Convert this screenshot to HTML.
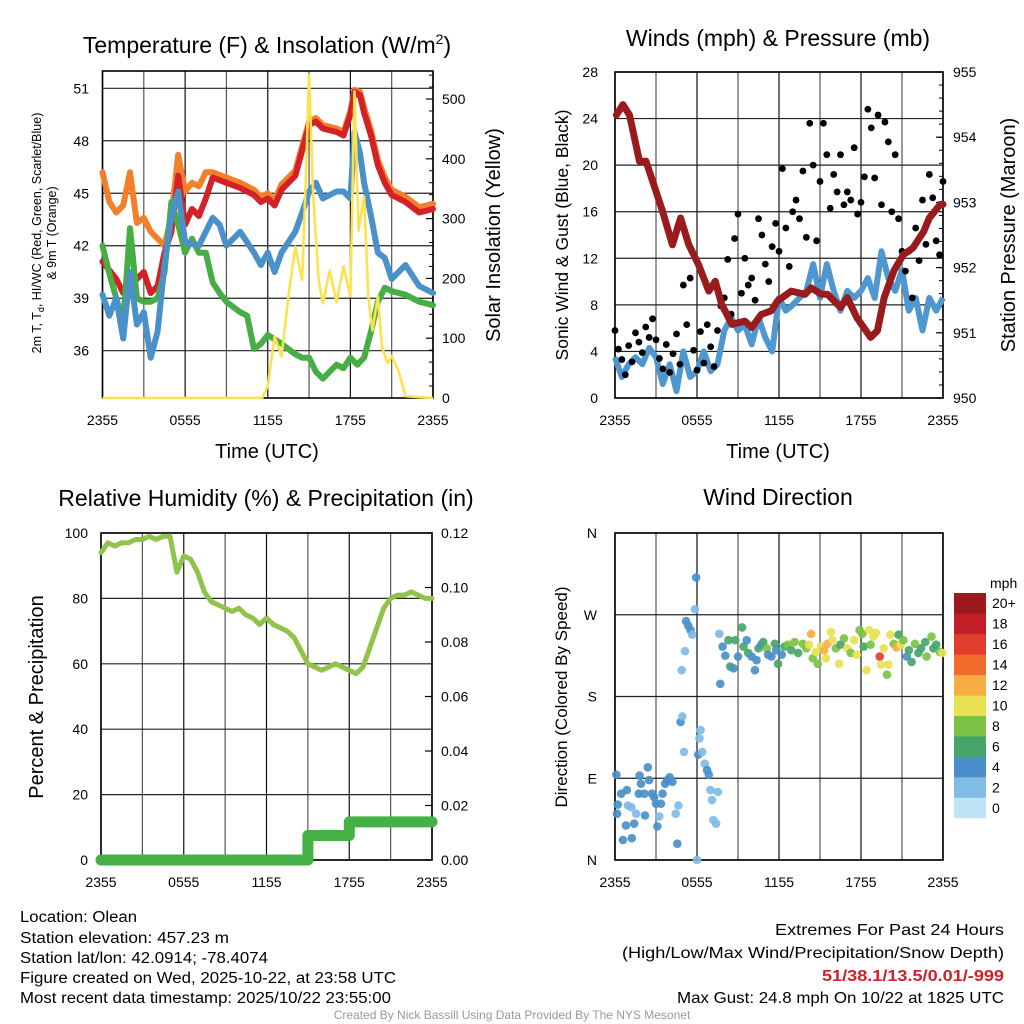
<!DOCTYPE html>
<html><head><meta charset="utf-8">
<style>
html,body{margin:0;padding:0;background:#fff;}
svg{display:block;font-family:"Liberation Sans",sans-serif;}
</style></head>
<body>
<svg id="chart" width="1024" height="1024" viewBox="0 0 1024 1024" xmlns="http://www.w3.org/2000/svg">
<rect x="0" y="0" width="1024" height="1024" fill="#fff"/>
<!-- titles -->
<text x="267" y="53" font-size="23" text-anchor="middle">Temperature (F) &amp; Insolation (W/m<tspan font-size="14" dy="-9">2</tspan><tspan dy="9">)</tspan></text>
<text x="778" y="46" font-size="23" text-anchor="middle">Winds (mph) &amp; Pressure (mb)</text>
<text x="266" y="506" font-size="23" text-anchor="middle">Relative Humidity (%) &amp; Precipitation (in)</text>
<text x="778" y="505" font-size="23" text-anchor="middle">Wind Direction</text>
<!-- axis labels -->
<text transform="translate(41,233) rotate(-90)" font-size="12.5" text-anchor="middle">2m T, T<tspan font-size="9" dy="3">d</tspan><tspan dy="-3">, HI/WC (Red, Green, Scarlet/Blue)</tspan></text>
<text transform="translate(56,233) rotate(-90)" font-size="12.5" text-anchor="middle">&amp; 9m T (Orange)</text>
<text transform="translate(500,235) rotate(-90)" font-size="20" text-anchor="middle">Solar Insolation (Yellow)</text>
<text x="267" y="458" font-size="20" text-anchor="middle">Time (UTC)</text>
<text transform="translate(568,235) rotate(-90)" font-size="17.5" text-anchor="middle">Sonic Wind &amp; Gust (Blue, Black)</text>
<text transform="translate(1015,235) rotate(-90)" font-size="20" text-anchor="middle">Station Pressure (Maroon)</text>
<text x="778" y="458" font-size="20" text-anchor="middle">Time (UTC)</text>
<text transform="translate(43,697) rotate(-90)" font-size="20" text-anchor="middle">Percent &amp; Precipitation</text>
<text transform="translate(567,697) rotate(-90)" font-size="17" text-anchor="middle">Direction (Colored By Speed)</text>
<text x="990" y="588" font-size="14">mph</text>
<!-- footer -->
<g font-size="15.5">
<text x="20" y="922" textLength="117" lengthAdjust="spacingAndGlyphs">Location: Olean</text>
<text x="20" y="943" textLength="209" lengthAdjust="spacingAndGlyphs">Station elevation: 457.23 m</text>
<text x="20" y="963" textLength="248" lengthAdjust="spacingAndGlyphs">Station lat/lon: 42.0914; -78.4074</text>
<text x="20" y="983" textLength="376" lengthAdjust="spacingAndGlyphs">Figure created on Wed, 2025-10-22, at 23:58 UTC</text>
<text x="20" y="1003" textLength="371" lengthAdjust="spacingAndGlyphs">Most recent data timestamp: 2025/10/22 23:55:00</text>
</g>
<g font-size="16" text-anchor="end">
<text x="1004" y="935" textLength="229" lengthAdjust="spacingAndGlyphs">Extremes For Past 24 Hours</text>
<text x="1004" y="958" textLength="382" lengthAdjust="spacingAndGlyphs">(High/Low/Max Wind/Precipitation/Snow Depth)</text>
<text x="1004" y="981" fill="#d0202a" font-weight="bold" textLength="182" lengthAdjust="spacingAndGlyphs">51/38.1/13.5/0.01/-999</text>
<text x="1004" y="1003" textLength="327" lengthAdjust="spacingAndGlyphs">Max Gust: 24.8 mph On 10/22 at 1825 UTC</text>
</g>
<text x="512" y="1019" font-size="12" fill="#999" text-anchor="middle">Created By Nick Bassill Using Data Provided By The NYS Mesonet</text>
<g id="plots"></g>
</svg>
<script>
// ---- Temperature panel data ----
const redT = [0,1,1.5,2,2.5,3,3.5,4,4.5,5,5.5,6,6.5,7,7.5,8,9,10,11,11.5,12,12.5,13,14,15,15.5,16,17,17.5,18,18.3,18.7,19,19.5,20,20.5,21,22,23,24];
const redV = [41.1,40.1,39.3,40.1,40.1,40.5,39.3,39.7,41.6,42.8,46.0,43.2,44.1,43.7,44.7,45.9,45.6,45.3,44.9,44.5,44.7,44.3,45.2,46.0,48.9,49.1,48.7,48.5,48.3,49.5,50.8,50.6,49.6,48.3,46.6,45.6,44.9,44.5,43.9,44.1];
const orangeT = [0,0.5,1,1.5,2,2.5,3,3.5,4,4.5,5,5.5,6,6.5,7,7.5,8,9,10,11,11.5,12,12.5,13,14,15,15.5,16,17,17.5,18,18.3,18.7,19,19.5,20,20.5,21,22,23,24];
const orangeV = [46.2,44.5,43.9,44.3,46.2,43.3,43.6,42.8,42.4,42.0,43.7,47.2,45.1,45.6,45.4,46.2,46.2,45.9,45.6,45.2,44.8,45.0,44.6,45.5,46.3,49.1,49.3,48.9,48.7,48.5,49.7,50.9,50.8,49.9,48.6,46.9,45.9,45.2,44.8,44.2,44.4];
const blueT = [0,0.5,1,1.5,2,2.5,3,3.5,4,4.5,5,5.5,6,7,8,8.5,9,10,11,11.5,12,12.5,13,14,14.5,15,15.5,16,17,17.5,18,18.3,18.7,19,19.5,20,20.5,21,22,23,24];
const blueV = [39.2,38.0,39.0,36.7,40.5,37.5,38.2,35.6,37.1,40.9,43.7,45.1,42.2,42.0,43.6,43.2,42.0,42.8,41.6,40.9,41.6,40.5,41.6,42.8,43.9,45.1,45.6,44.7,45.1,45.1,44.7,48.5,47.3,45.6,43.7,41.6,41.3,40.1,40.9,39.7,39.3];
const greenT = [0,0.5,1,1.5,2,2.5,3,3.5,4,4.5,5,5.5,6,6.5,7,7.5,8,8.5,9,10,10.5,11,11.5,12,13,14,14.5,15,15.5,16,17,17.5,18,18.5,19,19.5,20,20.5,21,22,23,24];
const greenV = [42.0,40.4,39.0,37.6,43.0,39.0,38.8,38.8,39.0,40.5,44.5,43.2,41.6,42.4,41.6,41.6,39.9,39.3,38.8,38.2,38.0,36.1,36.4,36.9,36.4,35.8,35.6,35.6,34.8,34.4,35.2,35.0,35.6,35.2,35.6,37.1,38.8,39.6,39.4,39.2,38.8,38.6];
const solarT = [0,11.6,12,12.5,13,13.5,14,14.5,14.8,15,15.3,15.7,16,16.5,17,17.5,18,18.3,18.6,19,19.3,19.6,20,20.3,20.7,21,21.5,22,24];
const solarV = [0,0,20,103,70,170,253,197,392,540,337,197,158,213,160,220,170,513,280,337,170,113,170,85,58,70,45,3,0];
const tempTicks = [36,39,42,45,48,51];
const solarTicks = [0,100,200,300,400,500];
const timeLabels = ["2355","0555","1155","1755","2355"];
// ---- Wind panel data ----
const pressT = [0.1,0.58,1.06,1.79,2.27,3.0,3.48,4.2,4.8,5.4,6.1,6.86,7.34,7.8,8.55,9.5,10.0,10.7,11.45,11.9,12.9,13.9,14.35,15.1,15.55,16.5,17.0,17.7,18.7,19.2,19.7,20.4,21.1,21.8,22.6,23.0,23.8,24];
const pressV = [954.34,954.50,954.34,953.63,953.63,953.17,952.86,952.35,952.76,952.35,952.05,951.64,951.79,951.44,951.13,951.18,951.08,951.28,951.34,951.49,951.64,951.59,951.69,951.59,951.59,951.39,951.54,951.23,950.93,951.03,951.54,951.95,952.20,952.30,952.56,952.76,952.97,952.97];
const windV = [3.5,1.8,2.9,3.5,2.9,4.3,3.5,1.2,2.9,0.6,4.0,1.8,2.3,4.0,2.3,2.9,5.8,6.9,5.8,6.3,4.6,6.9,5.2,4.0,8.6,7.5,8.0,8.6,9.2,11.5,8.6,11.5,9.2,7.5,9.2,8.6,9.2,10.3,8.6,12.6,10.3,9.2,11.0,7.5,8.6,5.8,8.6,7.5,8.6];
const gustV = [5.8,4.2,3.3,2.0,4.5,3.1,5.6,4.8,3.9,
6.1,5.2,6.8,5.0,3.4,2.5,4.6,2.2,
3.8,5.5,2.9,9.7,6.3,10.3,4.1,2.4,
5.7,3.0,6.3,4.4,2.7,5.8,7.9,8.6,
11.9,7.2,13.7,15.8,9.0,12.0,9.7,10.3,
8.4,15.4,14.0,11.5,10.0,13.0,15.0,12.6,
19.7,14.6,11.3,16.0,17.0,15.4,19.5,13.8,
23.6,20.0,13.5,18.6,23.6,20.9,16.3,19.2,
17.7,20.9,16.6,17.7,17.0,21.5,15.8,16.8,
19.0,24.8,23.2,18.9,24.3,16.6,23.7,22.0,
16.0,20.9,15.4,12.6,10.9,12.6,8.6,14.6,
11.8,17.0,13.2,19.2,17.2,13.5,12.3,18.6];
const windTicks = [0,4,8,12,16,20,24,28];
const pressTicks = [950,951,952,953,954,955];
// ---- Humidity panel data ----
const rhV = [94,97,96,97,97,98,98,99,98,99,99,88,93,92,88,82,79,78,77,76,77,75,74,72,74,72,71,70,68,64,60,59,58,59,60,59,58,57,59,65,71,77,80,81,81,82,81,80,80];
const precipV = [0,0,0,0,0,0,0,0,0,0,0,0,0,0,0,0,0,0,0,0,0,0,0,0,0,0,0,0,0,0,0.009,0.009,0.009,0.009,0.009,0.009,0.014,0.014,0.014,0.014,0.014,0.014,0.014,0.014,0.014,0.014,0.014,0.014,0.014];
const rhTicks = [0,20,40,60,80,100];
const precipTicks = ["0.00","0.02","0.04","0.06","0.08","0.10","0.12"];
// ---- Wind direction data ----
const dirT = [0.1,0.2,0.15,0.45,0.58,0.8,0.87,0.94,1.2,1.23,1.4,1.55,1.74,1.8,1.9,2.15,2.2,2.4,2.5,2.7,2.87,3.0,3.1,3.24,3.36,3.48,3.67,3.84,4.0,4.2,4.44,4.56,4.64,4.8,4.93,5.05,4.88,5.12,5.2,5.36,5.53,5.65,5.85,5.94,6.0,6.09,6.18,6.26,6.38,6.57,6.74,6.86,6.98,7.1,7.2,7.4,7.53,7.63,7.7,7.87,8.07,8.3,8.43,8.67,8.8,9.0,9.3,9.4,9.64,9.75,10.0,10.24,10.36,10.5,10.7,10.85,11.1,11.2,11.45,11.7,11.8,11.93,12.2,12.4,12.66,12.9,13.14,13.4,13.74,14.0,14.2,14.35,14.47,14.7,14.83,15.07,15.3,15.43,15.55,15.8,15.92,16.16,16.4,16.5,16.76,17.0,17.25,17.5,17.7,17.9,18.1,18.2,18.4,18.6,18.7,18.9,19.1,19.37,19.46,19.66,19.9,20.0,20.15,20.4,20.6,20.75,20.9,21.1,21.35,21.5,21.7,21.95,22.2,22.4,22.7,22.8,23.16,23.3,23.5,23.77,23.96];
const dirV = [94,61,51,73,22,38,77,60,58,24,40,51,73,93,84,73,49,102,88,73,69,62,37,48,62,73,84,88,91,86,51,18,60,152,158,119,209,230,263,258,253,248,276,311,0,116,134,143,119,106,99,94,77,66,44,40,75,249,194,235,225,242,213,211,242,224,256,235,242,228,224,209,220,233,237,240,233,226,224,238,231,216,226,235,237,231,240,228,238,233,237,249,222,229,216,235,231,222,238,251,242,233,216,237,244,233,228,242,226,253,249,235,209,253,237,246,250,224,215,233,204,215,248,238,234,248,237,242,224,231,218,238,228,233,240,224,246,233,237,229,228];
const dirS = [4,4,3,3,3,3,3,2,2,3,3,2,3,3,3,3,3,3,3,3,4,3,3,1,4,4,4,4,4,4,2,3,1,3,1,1,1,1,4,4,4,1,1,3,1,3,1,1,2,2,4,4,2,2,2,1,2,1,3,4,4,6,6,4,6,4,6,6,4,6,4,4,4,6,4,6,8,4,4,6,4,6,4,6,8,6,8,6,8,8,10,12,8,10,8,10,12,10,12,10,10,8,10,6,8,10,8,10,10,8,8,6,10,10,8,10,10,16,10,10,8,10,10,8,12,6,10,8,4,6,6,8,6,6,6,8,8,6,6,8,10];
const dirTickLabels = ["N","E","S","W","N"];
const cbarLabels = ["0","2","4","6","8","10","12","14","16","18","20+"];
const cbarColors = ["#bfe4f7","#80bce6","#4a8fc9","#46a66a","#7dc144","#e8e152","#f8ac44","#f06b2c","#e03e2d","#c21f27","#9c1a1d"];

const NS = "http://www.w3.org/2000/svg";
const root = document.getElementById('plots');
function mk(tag, attrs, parent){ const e=document.createElementNS(NS,tag); for(const k in attrs) e.setAttribute(k,attrs[k]); (parent||root).appendChild(e); return e; }
function lin(d0,d1,r0,r1){ return v => r0 + (v-d0)*(r1-r0)/(d1-d0); }
function pathD(xs,ys,fx,fy){ let d=''; for(let i=0;i<xs.length;i++){ d += (i?'L':'M') + fx(xs[i]).toFixed(1)+','+fy(ys[i]).toFixed(1); } return d; }
function halfHours(n){ const a=[]; for(let i=0;i<n;i++) a.push(i*0.5); return a; }

function frame(p, name){
  const g = mk('g',{});
  
  
  for(let h=0;h<=24;h+=3){ const x=p.fx(h); mk('line',{x1:x,x2:x,y1:p.y0,y2:p.y1,stroke:(h%6===0)?'#111':'#555','stroke-width':1.2},g); }
  p.hgrid.forEach(y=>mk('line',{x1:p.x0,x2:p.x1,y1:y,y2:y,stroke:'#222','stroke-width':1.2},g));
  const r = mk('rect',{x:p.x0,y:p.y0,width:p.x1-p.x0,height:p.y1-p.y0,fill:'none',stroke:'#000','stroke-width':1.6});
  
  
  const xl = mk('g',{'font-size':14,'text-anchor':'middle'});
  
  
  timeLabels.forEach((s,i)=>{ const t=mk('text',{x:p.fx(i*6),y:p.y1+27},xl); t.textContent=s; });
}

// ========== Panel 1: Temperature ==========
(function(){
  const p={x0:102.5,x1:433,y0:71,y1:398};
  p.fx=lin(0,24,p.x0,p.x1);
  const fy=lin(51,36,88.3,350.7);
  const fs=lin(0,500,398,99);
  p.hgrid=tempTicks.map(fy);
  frame(p,'temperature');
  const yl=mk('g',{'font-size':14,'text-anchor':'end'});
  
  
  tempTicks.forEach(v=>{ const t=mk('text',{x:89,y:fy(v)+5},yl); t.textContent=v; });
  const rl=mk('g',{'font-size':14});
  
  
  solarTicks.forEach(v=>{ const t=mk('text',{x:442,y:fs(v)+5},rl); t.textContent=v; mk('line',{x1:p.x1-7,x2:p.x1,y1:fs(v),y2:fs(v),stroke:'#000','stroke-width':1.2}); });
  for(let v=20;v<550;v+=20){ if(v%100) mk('line',{x1:p.x1-4,x2:p.x1,y1:fs(v),y2:fs(v),stroke:'#000','stroke-width':1}); }
  const series=[[orangeT,orangeV,'#f47f2b','orange-9m-temperature-line',fy],[redT,redV,'#d42027','red-temperature-line',fy],[greenT,greenV,'#46ae44','green-dewpoint-line',fy],[blueT,blueV,'#4a90c9','blue-windchill-line',fy]];
  series.forEach(s=>{
    const el=mk('path',{d:pathD(s[0],s[1],p.fx,s[4]),fill:'none',stroke:s[2],'stroke-width':6,'stroke-linejoin':'round','stroke-linecap':'round'});
    
    
  });
  const sl=mk('path',{d:pathD(solarT,solarV,p.fx,fs),fill:'none',stroke:'#fde24f','stroke-width':2.6,'stroke-linejoin':'round'});
  
  
})();

// ========== Panel 2: Winds ==========
(function(){
  const p={x0:615,x1:943,y0:72,y1:398};
  p.fx=lin(0,24,p.x0,p.x1);
  const fw=lin(0,28,398,72);
  const fp=lin(950,955,398,72);
  p.hgrid=windTicks.map(fw);
  frame(p,'winds');
  const yl=mk('g',{'font-size':14,'text-anchor':'end'});
  
  
  windTicks.forEach(v=>{ const t=mk('text',{x:598,y:fw(v)+5},yl); t.textContent=v; });
  const rl=mk('g',{'font-size':14});
  
  
  pressTicks.forEach(v=>{ const t=mk('text',{x:953,y:fp(v)+5},rl); t.textContent=v; mk('line',{x1:p.x1-7,x2:p.x1,y1:fp(v),y2:fp(v),stroke:'#000','stroke-width':1.2}); });
  for(let v=950.2;v<955;v+=0.2){ mk('line',{x1:p.x1-4,x2:p.x1,y1:fp(v),y2:fp(v),stroke:'#000','stroke-width':1}); }
  const wl=mk('path',{d:pathD(halfHours(windV.length),windV,p.fx,fw),fill:'none',stroke:'#4f97d0','stroke-width':6,'stroke-linejoin':'round'});
  
  
  const gg=mk('g',{fill:'#000'});
  
  
  gustV.forEach((v,i)=>{
    const c=mk('circle',{cx:p.fx(i*0.25),cy:fw(v),r:3.4},gg);
    
    
  });
  const pl=mk('path',{d:pathD(pressT,pressV,p.fx,fp),fill:'none',stroke:'#9a1b1e','stroke-width':7,'stroke-linejoin':'round','stroke-linecap':'round'});
  
  
})();

// ========== Panel 3: Humidity ==========
(function(){
  const p={x0:101,x1:432,y0:533,y1:860};
  p.fx=lin(0,24,p.x0,p.x1);
  const fr=lin(0,100,860,533);
  const fpc=lin(0,0.12,860,533);
  p.hgrid=rhTicks.map(fr);
  frame(p,'humidity');
  const yl=mk('g',{'font-size':14,'text-anchor':'end'});
  
  
  rhTicks.forEach(v=>{ const t=mk('text',{x:88,y:fr(v)+5},yl); t.textContent=v; });
  const rl=mk('g',{'font-size':14});
  
  
  precipTicks.forEach(s=>{ const v=parseFloat(s); const t=mk('text',{x:441,y:fpc(v)+5},rl); t.textContent=s; mk('line',{x1:p.x1-7,x2:p.x1,y1:fpc(v),y2:fpc(v),stroke:'#000','stroke-width':1.2}); });
  const rh=mk('path',{d:pathD(halfHours(rhV.length),rhV,p.fx,fr),fill:'none',stroke:'#8fc34a','stroke-width':5,'stroke-linejoin':'round','stroke-linecap':'round'});
  
  
  let d='';
  precipV.forEach((v,i)=>{ const x=p.fx(i*0.5), y=fpc(v); d += (i? 'L'+x.toFixed(1)+','+fpc(precipV[i-1]).toFixed(1)+'L' : 'M') + x.toFixed(1)+','+y.toFixed(1); });
  const pr=mk('path',{d:d,fill:'none',stroke:'#45b045','stroke-width':11,'stroke-linejoin':'round','stroke-linecap':'round'});
  
  
})();

// ========== Panel 4: Wind direction ==========
(function(){
  const p={x0:615,x1:943,y0:533,y1:860};
  p.fx=lin(0,24,p.x0,p.x1);
  const fd=lin(0,360,860,533);
  p.hgrid=[0,90,180,270,360].map(fd);
  frame(p,'wind-direction');
  const yl=mk('g',{'font-size':14,'text-anchor':'end'});
  
  
  dirTickLabels.forEach((s,i)=>{ const t=mk('text',{x:597,y:fd(i*90)+5},yl); t.textContent=s; });
  const g=mk('g',{'fill-opacity':0.92});
  
  
  dirT.forEach((t,i)=>{
    const ci=Math.min(10,Math.round(dirS[i]/2));
    const c=mk('circle',{cx:p.fx(t),cy:fd(dirV[i]),r:4.3,fill:cbarColors[ci]},g);
    
    
  });
  const cb=mk('g',{});
  
  
  const h=225/11;
  cbarLabels.forEach((s,i)=>{
    const y=818-(i+1)*h;
    mk('rect',{x:954,y:y,width:32,height:h+0.3,fill:cbarColors[i]},cb);
    const t=mk('text',{x:992,y:y+h/2+5,'font-size':14},cb); t.textContent=s;
  });
})();
</script>
</body></html>
